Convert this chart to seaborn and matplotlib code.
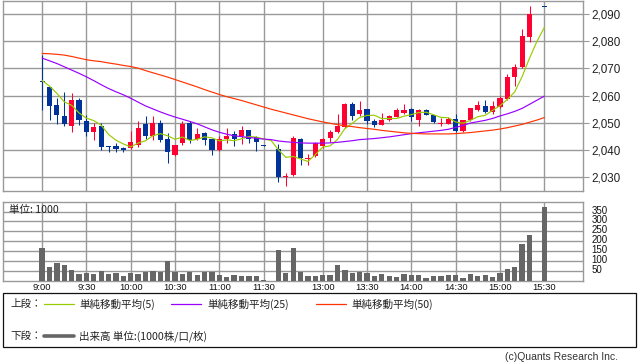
import numpy as np
import pandas as pd
import matplotlib
matplotlib.use("Agg")
import matplotlib.pyplot as plt
from matplotlib.lines import Line2D
from matplotlib.patches import Rectangle
from matplotlib.ticker import FuncFormatter
from matplotlib.transforms import ScaledTranslation
import seaborn as sns

# 5-minute slots: 9:00-11:30, one empty lunch slot, 12:30-15:30 (15:25 has no trade)
tick_slots = [0, 6, 12, 18, 24, 30, 38, 44, 50, 56, 62, 68]
tick_labels = ["9:00", "9:30", "10:00", "10:30", "11:00", "11:30",
               "13:00", "13:30", "14:00", "14:30", "15:00", "15:30"]

opens = [2065.0, 2063.1, 2056.4, 2052.5, 2048.9, 2058.3, 2050.7, 2046.7, 2048.7, 2041.3,
         2041.6, 2040.8, 2040.7, 2041.8, 2049.6, 2045.3, 2050.0, 2044.1, 2038.3, 2042.4,
         2050.0, 2044.1, 2046.4, 2043.9, 2039.9, 2043.9, 2045.7, 2045.3, 2047.2, 2044.7,
         2041.7, None, 2040.2, 2030.0, 2030.7, 2044.1, 2036.7, 2037.7, 2041.4, 2044.3,
         2046.6, 2048.4, 2057.0, 2053.4, 2054.9, 2050.8, 2049.2, 2050.9, 2052.3, 2053.6,
         2055.0, 2051.1, 2054.8, 2052.8, 2049.6, 2049.6, 2051.4, 2046.8, 2051.1, 2054.8,
         2056.3, 2053.8, 2055.8, 2058.8, 2066.8, 2070.4, 2081.4, None, 2092.7]
highs = [2075.0, 2063.1, 2059.0, 2061.2, 2060.8, 2059.2, 2052.8, 2049.8, 2049.9, 2041.5,
         2042.6, 2041.2, 2046.8, 2050.5, 2052.6, 2052.4, 2051.2, 2046.2, 2041.9, 2050.6,
         2050.5, 2047.9, 2046.6, 2044.2, 2045.0, 2047.9, 2046.9, 2048.8, 2047.4, 2045.0,
         2041.7, None, 2042.3, 2031.6, 2045.3, 2044.5, 2038.4, 2043.0, 2044.4, 2047.2,
         2053.3, 2057.2, 2057.6, 2058.0, 2055.1, 2051.3, 2053.7, 2052.8, 2055.6, 2056.9,
         2055.3, 2055.0, 2055.0, 2053.0, 2051.7, 2052.3, 2053.3, 2051.0, 2055.6, 2058.1,
         2058.2, 2058.1, 2059.7, 2068.0, 2071.6, 2084.6, 2093.1, None, 2092.7]
lows = [2054.8, 2050.9, 2049.4, 2048.8, 2046.7, 2049.1, 2045.1, 2043.6, 2039.8, 2039.3,
        2039.1, 2039.1, 2040.2, 2041.2, 2044.0, 2043.8, 2043.0, 2035.1, 2037.7, 2042.0,
        2042.4, 2043.6, 2042.0, 2038.3, 2039.5, 2042.6, 2041.4, 2042.3, 2042.6, 2039.6,
        2041.6, None, 2028.2, 2026.9, 2030.5, 2034.3, 2034.6, 2037.3, 2040.6, 2042.9,
        2046.3, 2048.2, 2050.9, 2052.6, 2049.7, 2048.6, 2049.0, 2050.5, 2052.0, 2053.3,
        2050.5, 2048.9, 2052.8, 2050.0, 2048.7, 2049.4, 2046.6, 2046.5, 2050.7, 2054.5,
        2053.5, 2053.3, 2055.6, 2058.5, 2063.6, 2070.0, 2079.9, None, 2092.6]
closes = [2065.0, 2056.3, 2052.9, 2049.6, 2058.3, 2051.0, 2046.7, 2048.4, 2041.2, 2041.1,
          2040.5, 2039.8, 2043.1, 2048.2, 2045.3, 2049.8, 2043.6, 2039.2, 2041.7, 2049.4,
          2043.5, 2045.8, 2043.6, 2039.9, 2043.9, 2045.3, 2044.2, 2047.2, 2044.1, 2042.9,
          2041.6, None, 2030.0, 2030.3, 2044.5, 2036.9, 2037.1, 2042.7, 2044.1, 2046.7,
          2048.8, 2057.0, 2052.4, 2054.8, 2050.5, 2049.1, 2050.9, 2052.5, 2054.8, 2054.8,
          2052.0, 2054.8, 2053.0, 2050.2, 2049.9, 2051.3, 2047.0, 2050.9, 2055.4, 2056.6,
          2053.8, 2056.3, 2059.3, 2067.0, 2070.5, 2082.0, 2090.1, None, 2092.6]
# last four closes of the previous session (needed for the 5-bar average)
prev_close = [2066.3, 2066.4, 2065.1, 2064.7]

ma25 = [2073.8, 2072.8, 2071.8, 2070.6, 2069.4, 2068.2, 2066.9, 2065.5, 2064.0, 2062.6,
        2061.4, 2060.3, 2059.0, 2057.6, 2056.2, 2055.1, 2054.0, 2053.0, 2052.1, 2051.3,
        2050.5, 2049.6, 2048.5, 2047.4, 2046.5, 2045.8, 2045.2, 2044.9, 2044.6, 2044.3,
        2044.0, 2043.8, 2043.3, 2043.0, 2042.8, 2042.6, 2042.5, 2042.5, 2042.5, 2042.6,
        2042.8, 2043.1, 2043.4, 2043.8, 2044.0, 2044.2, 2044.5, 2044.8, 2045.2, 2045.6,
        2046.0, 2046.3, 2046.6, 2046.9, 2047.2, 2047.6, 2048.3, 2049.0, 2049.9, 2050.4,
        2050.9, 2051.6, 2052.5, 2053.3, 2054.2, 2055.3, 2056.8, 2058.3, 2059.8]
ma50 = [2075.5, 2075.4, 2075.2, 2074.9, 2074.4, 2073.8, 2073.2, 2072.8, 2072.5, 2072.0,
        2071.6, 2071.1, 2070.7, 2070.1, 2069.2, 2068.4, 2067.6, 2066.8, 2065.9, 2065.0,
        2064.1, 2063.2, 2062.2, 2061.3, 2060.4, 2059.6, 2058.9, 2058.2, 2057.4, 2056.6,
        2055.8, 2055.0, 2054.3, 2053.6, 2052.9, 2052.2, 2051.5, 2050.9, 2050.3, 2049.8,
        2049.3, 2048.9, 2048.6, 2048.2, 2047.9, 2047.6, 2047.2, 2046.9, 2046.6, 2046.3,
        2046.1, 2046.0, 2045.9, 2045.9, 2045.9, 2045.9, 2046.0, 2046.2, 2046.4, 2046.7,
        2047.0, 2047.3, 2047.7, 2048.2, 2048.8, 2049.4, 2050.2, 2051.0, 2051.9]

volume = [165, 70, 89, 79, 53, 33, 40, 35, 50, 36,
          40, 23, 40, 35, 46, 50, 45, 101, 45, 33,
          45, 30, 45, 45, 28, 20, 28, 23, 23, 23,
          3, None, 157, 40, 165, 46, 23, 23, 28, 28,
          78, 53, 40, 45, 40, 23, 33, 23, 18, 33,
          28, 28, 13, 23, 23, 28, 28, 13, 33, 25,
          28, 20, 40, 58, 68, 188, 233, None, 375]

RED = "#ff0033"
BLUE = "#003399"
GRID = "#999999"
VOL_GRAY = "#666666"
MA_COLORS = ["#99cc00", "#9900ff", "#ff3300"]
JP = ["Noto Sans CJK JP", "DejaVu Sans"]

sns.set_style("white")
plt.rcParams["font.family"] = ["Liberation Sans", "DejaVu Sans"]

df = pd.DataFrame({"open": opens, "high": highs, "low": lows, "close": closes,
                   "volume": volume, "ma25": ma25, "ma50": ma50}, dtype=float)
df["slot"] = np.arange(len(df))
# 5-bar simple moving average; empty slots carry the last close
close_all = pd.Series(prev_close + closes, dtype=float).ffill()
df["ma5"] = close_all.rolling(5).mean().iloc[len(prev_close):].to_numpy()

fig = plt.figure(figsize=(6.38, 3.62), dpi=100)
W, H = 638.0, 362.0
ax = fig.add_axes([3 / W, 1 - 190.7 / H, 579.7 / W, 190.2 / H])
axv = fig.add_axes([3 / W, 1 - 280.7 / H, 579.7 / W, 79 / H])

# ---- price panel ----
c = df.dropna(subset=["open"])
col = np.where(c["close"] > c["open"], RED, BLUE)
ax.vlines(c["slot"], c["low"], c["high"], colors=col, lw=0.75, zorder=3)
body_lo = np.minimum(c["open"], c["close"])
body_h = np.maximum((c["close"] - c["open"]).abs(), 0.4)
ax.bar(c["slot"], body_h, bottom=body_lo, width=0.7, color=col, lw=0, zorder=4)

for name, color in zip(["ma5", "ma25", "ma50"], MA_COLORS):
    sns.lineplot(data=df, x="slot", y=name, color=color, lw=0.85, ax=ax, zorder=5)

ax.set_xlim(-5.3, 73.2)
ax.set_ylim(2025, 2095)
ax.set_yticks(range(2030, 2091, 10))
ax.yaxis.set_major_formatter(FuncFormatter(lambda v, p: f"{v:,.0f}"))
ax.yaxis.tick_right()
ax.set_xticks(tick_slots)
ax.set_xticklabels([])
ax.tick_params(axis="x", length=0)
ax.tick_params(axis="y", length=4, color=GRID, labelsize=8.4, pad=2.5, labelcolor="#222222")
ax.set_xlabel("")
ax.set_ylabel("")

# ---- volume panel ----
v = df.dropna(subset=["volume"])
sns.barplot(data=v, x="slot", y="volume", native_scale=True, width=0.72,
            color=VOL_GRAY, saturation=1, errorbar=None, ax=axv, zorder=3,
            linewidth=0)
axv.set_xlim(-5.3, 73.2)
axv.set_ylim(0, 400)
axv.set_yticks(range(50, 351, 50))
axv.yaxis.tick_right()
axv.set_xticks(tick_slots)
axv.set_xticklabels(tick_labels)
axv.tick_params(axis="x", length=0, labelsize=6.8, pad=2, labelcolor="#111111")
axv.tick_params(axis="y", length=0, labelsize=7, pad=6.5, labelcolor="#111111")
lift = ScaledTranslation(0, 2 / 100, fig.dpi_scale_trans)
for lab in axv.get_yticklabels():
    lab.set_transform(lab.get_transform() + lift)
axv.set_xlabel("")
axv.set_ylabel("")
axv.text(0.01, 0.89, "単位: 1000", transform=axv.transAxes, fontsize=7.6,
         family=JP, va="center", ha="left", color="#222222", zorder=1)

for a in (ax, axv):
    a.set_axisbelow(True)
    a.grid(True, color=GRID, lw=1)
    for s in a.spines.values():
        s.set_color(GRID)
        s.set_linewidth(1)

# ---- legend box ----
fig.patches.append(Rectangle((3 / W, 1 - 347 / H), 633 / W, 54 / H, transform=fig.transFigure,
                             fill=False, edgecolor="#111111", lw=0.9))
y1 = 1 - 304 / H
y2 = 1 - 336 / H
fig.text(10 / W, y1, "上段：", family=JP, fontsize=7.6, va="center", color="#222222")
fig.text(10 / W, y2, "下段：", family=JP, fontsize=7.6, va="center", color="#222222")
items = [(44, 79, "単純移動平均(5)", MA_COLORS[0]),
         (171, 207, "単純移動平均(25)", MA_COLORS[1]),
         (316, 351, "単純移動平均(50)", MA_COLORS[2])]
for x0, xt, label, color in items:
    fig.lines.append(Line2D([x0 / W, (x0 + 30) / W], [y1, y1], transform=fig.transFigure,
                            color=color, lw=0.9))
    fig.text(xt / W, y1, label, family=JP, fontsize=7.6, va="center", color="#222222")
fig.lines.append(Line2D([44 / W, 74 / W], [y2, y2], transform=fig.transFigure,
                        color=VOL_GRAY, lw=2.6))
fig.text(79 / W, y2, "出来高 単位:(1000株/口/枚)", family=JP, fontsize=7.6,
         va="center", color="#222222")

fig.text(618 / W, 1 - 357 / H, "(c)Quants Research Inc.", fontsize=7.5,
         ha="right", va="center", color="#333333")

fig.savefig("out.png", dpi=100)
